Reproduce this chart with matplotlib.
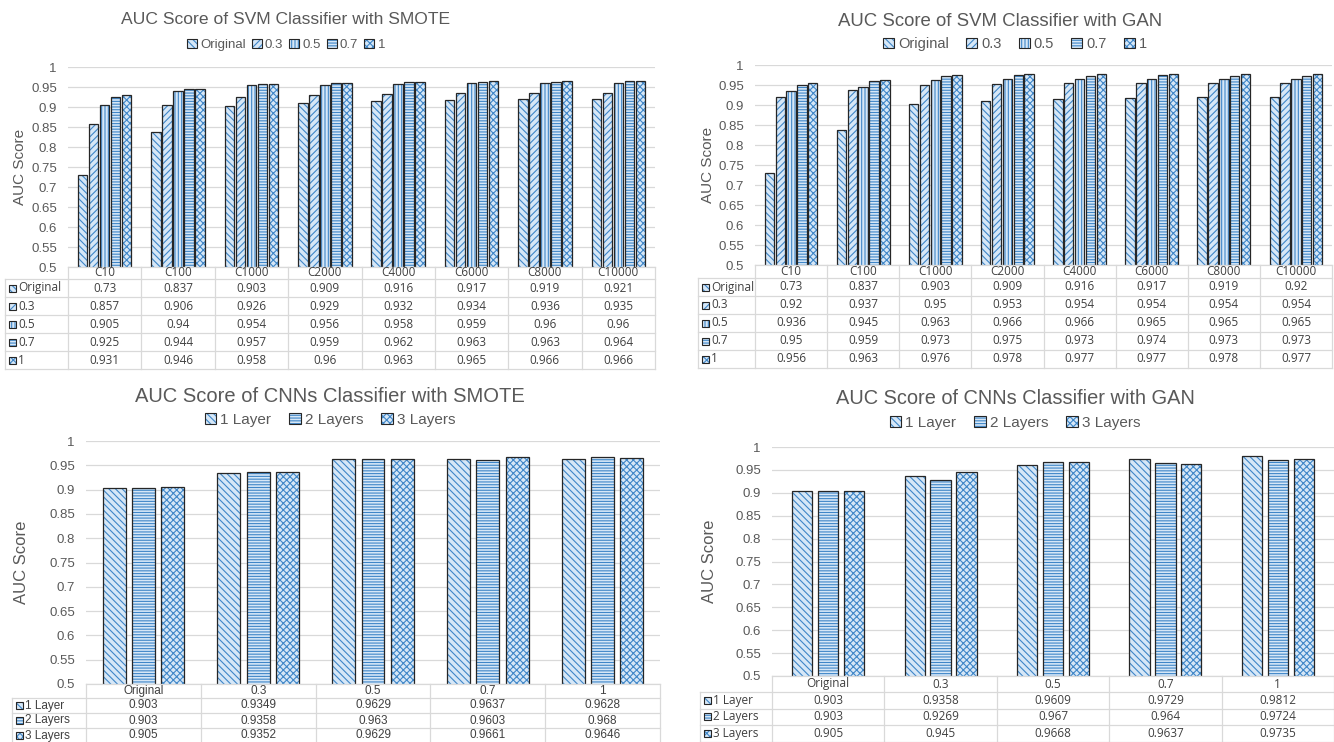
import numpy as np
import matplotlib
matplotlib.use("Agg")
import matplotlib.pyplot as plt
from matplotlib.patches import Rectangle, Patch

# ---------------- data ----------------
svm_cats = ["C10", "C100", "C1000", "C2000", "C4000", "C6000", "C8000", "C10000"]
svm_series = ["Original", "0.3", "0.5", "0.7", "1"]

svm_smote_original = [0.73, 0.837, 0.903, 0.909, 0.916, 0.917, 0.919, 0.921]
svm_smote_03 = [0.857, 0.906, 0.926, 0.929, 0.932, 0.934, 0.936, 0.935]
svm_smote_05 = [0.905, 0.94, 0.954, 0.956, 0.958, 0.959, 0.96, 0.96]
svm_smote_07 = [0.925, 0.944, 0.957, 0.959, 0.962, 0.963, 0.963, 0.964]
svm_smote_1 = [0.931, 0.946, 0.958, 0.96, 0.963, 0.965, 0.966, 0.966]

svm_gan_original = [0.73, 0.837, 0.903, 0.909, 0.916, 0.917, 0.919, 0.92]
svm_gan_03 = [0.92, 0.937, 0.95, 0.953, 0.954, 0.954, 0.954, 0.954]
svm_gan_05 = [0.936, 0.945, 0.963, 0.966, 0.966, 0.965, 0.965, 0.965]
svm_gan_07 = [0.95, 0.959, 0.973, 0.975, 0.973, 0.974, 0.973, 0.973]
svm_gan_1 = [0.956, 0.963, 0.976, 0.978, 0.977, 0.977, 0.978, 0.977]

cnn_cats = ["Original", "0.3", "0.5", "0.7", "1"]
cnn_series = ["1 Layer", "2 Layers", "3 Layers"]

cnn_smote_1layer = [0.903, 0.9349, 0.9629, 0.9637, 0.9628]
cnn_smote_2layers = [0.903, 0.9358, 0.963, 0.9603, 0.968]
cnn_smote_3layers = [0.905, 0.9352, 0.9629, 0.9661, 0.9646]

cnn_gan_1layer = [0.903, 0.9358, 0.9609, 0.9729, 0.9812]
cnn_gan_2layers = [0.903, 0.9269, 0.967, 0.964, 0.9724]
cnn_gan_3layers = [0.905, 0.945, 0.9668, 0.9637, 0.9735]

ytick_values = [0.5, 0.55, 0.6, 0.65, 0.7, 0.75, 0.8, 0.85, 0.9, 0.95, 1.0]
ytick_labels = ["0.5", "0.55", "0.6", "0.65", "0.7", "0.75", "0.8", "0.85", "0.9", "0.95", "1"]

# ---------------- style ----------------
W, H = 1334, 742
FACE = "#D6E7F7"
HATCHC = "#3F86C8"
EDGE = "#262626"
GRID = "#D9D9D9"
TXT = "#595959"
CHART_FONT = "Liberation Sans"

svm_hatches = ["\\\\\\\\\\", "/////", "|||||", "------", "xxxxx"]
cnn_hatches = ["\\\\\\\\\\", "------", "xxxxx"]

plt.rcParams["hatch.linewidth"] = 0.8
plt.rcParams["font.family"] = CHART_FONT

fig = plt.figure(figsize=(W / 100, H / 100), dpi=100)
fig.patch.set_facecolor("white")
ov = fig.add_axes([0, 0, 1, 1])
ov.set_xlim(0, W)
ov.set_ylim(H, 0)
ov.axis("off")
ov.patch.set_alpha(0)
ov.set_zorder(10)


def fmt(v):
    return ("%.4f" % v).rstrip("0").rstrip(".")


def swatch(x, y, hatch, size=7):
    ov.add_patch(Rectangle((x, y - size / 2), size, size, facecolor=FACE,
                           edgecolor=HATCHC, hatch=hatch, lw=0))
    ov.add_patch(Rectangle((x, y - size / 2), size, size, fill=False,
                           edgecolor=EDGE, lw=0.8))


def panel(ax_px, cats, names, data, hatches, pitch, bw,
          title, title_xy, title_fs, leg_xy, leg_fs, leg_cs,
          ylab_x, ylab_fs, lab_left, header_h, row_h, table_fs, table_font):
    x0, y0, x1, y1 = ax_px
    ax = fig.add_axes([x0 / W, 1 - y1 / H, (x1 - x0) / W, (y1 - y0) / H])
    n, k = len(cats), len(names)
    xs = np.arange(n)
    for i, vals in enumerate(data):
        pos = xs + (i - (k - 1) / 2) * pitch
        ax.bar(pos, vals, bw, color=FACE, edgecolor=HATCHC, hatch=hatches[i],
               lw=0, zorder=2)
        ax.bar(pos, vals, bw, fill=False, edgecolor=EDGE, lw=0.9, zorder=3)
    ax.set_xlim(-0.5, n - 0.5)
    ax.set_ylim(0.5, 1.0)
    ax.set_yticks(ytick_values)
    ax.set_yticklabels(ytick_labels)
    ax.set_xticks([])
    ax.tick_params(axis="y", length=0, labelsize=9.5, labelcolor=TXT, pad=8)
    for s in ax.spines.values():
        s.set_visible(False)
    ax.yaxis.grid(True, color=GRID, lw=0.9)
    ax.set_axisbelow(True)

    # title & legend
    ov.text(title_xy[0], title_xy[1], title, ha="center", va="center",
            fontsize=title_fs, color=TXT)
    handles = [(Patch(facecolor=FACE, edgecolor=HATCHC, hatch=h, lw=0),
                Patch(fill=False, edgecolor=EDGE, lw=0.8)) for h in hatches]
    fig.legend(handles, names, loc="center",
               bbox_to_anchor=(leg_xy[0] / W, 1 - leg_xy[1] / H),
               ncol=k, frameon=False, fontsize=leg_fs,
               handlelength=0.75, handleheight=0.75, handletextpad=0.25,
               columnspacing=leg_cs, labelcolor=TXT, borderpad=0)
    ov.text(ylab_x, (y0 + y1) / 2, "AUC Score", rotation=90, ha="center",
            va="center", fontsize=ylab_fs, color=TXT)

    # table
    cw = (x1 - x0) / n
    top = y1
    hb = top + header_h
    bottom = hb + row_h * k
    lk = dict(color=GRID, lw=0.9)
    ov.plot([x0, x1], [top, top], **lk)
    for r in range(k + 1):
        yy = hb + r * row_h
        ov.plot([lab_left, x1], [yy, yy], **lk)
    for j in range(n + 1):
        xx = x0 + j * cw
        ov.plot([xx, xx], [top, bottom], **lk)
    ov.plot([lab_left, lab_left], [hb, bottom], **lk)
    tk = dict(fontsize=table_fs, color="#404040", family=table_font)
    for j, c in enumerate(cats):
        ov.text(x0 + (j + 0.5) * cw, top + header_h / 2, c, ha="center",
                va="center", **tk)
    for i, nm in enumerate(names):
        yc = hb + (i + 0.5) * row_h
        swatch(lab_left + 4, yc, hatches[i])
        ov.text(lab_left + 13, yc, nm, ha="left", va="center", **tk)
        for j in range(n):
            ov.text(x0 + (j + 0.5) * cw, yc, fmt(data[i][j]), ha="center",
                    va="center", **tk)


panel((68, 67, 655, 267), svm_cats, svm_series,
      [svm_smote_original, svm_smote_03, svm_smote_05, svm_smote_07, svm_smote_1],
      svm_hatches, 0.15, 0.13,
      "AUC Score of SVM Classifier with SMOTE", (286, 20), 12.6,
      (286, 45), 9.5, 0.45, 20, 11, 5, 12, 18, 8.5, "Open Sans")

panel((755, 65, 1332, 265), svm_cats, svm_series,
      [svm_gan_original, svm_gan_03, svm_gan_05, svm_gan_07, svm_gan_1],
      svm_hatches, 0.15, 0.13,
      "AUC Score of SVM Classifier with GAN", (1000, 21), 13.4,
      (1015, 44), 10.5, 1.2, 708, 11, 698, 13, 18, 8.5, "Open Sans")

panel((86, 441, 660, 684), cnn_cats, cnn_series,
      [cnn_smote_1layer, cnn_smote_2layers, cnn_smote_3layers],
      cnn_hatches, 0.255, 0.2,
      "AUC Score of CNNs Classifier with SMOTE", (330, 397), 14.5,
      (330, 420), 11, 1.2, 22, 12, 12, 14, 15, 8.5, "Liberation Sans")

panel((772, 447, 1334, 676), cnn_cats, cnn_series,
      [cnn_gan_1layer, cnn_gan_2layers, cnn_gan_3layers],
      cnn_hatches, 0.23, 0.18,
      "AUC Score of CNNs Classifier with GAN", (1015, 398), 14.4,
      (1015, 423), 11, 1.2, 710, 12, 700, 16, 16.5, 8.5, "Open Sans")

fig.savefig("out.png", dpi=100, facecolor="white")
